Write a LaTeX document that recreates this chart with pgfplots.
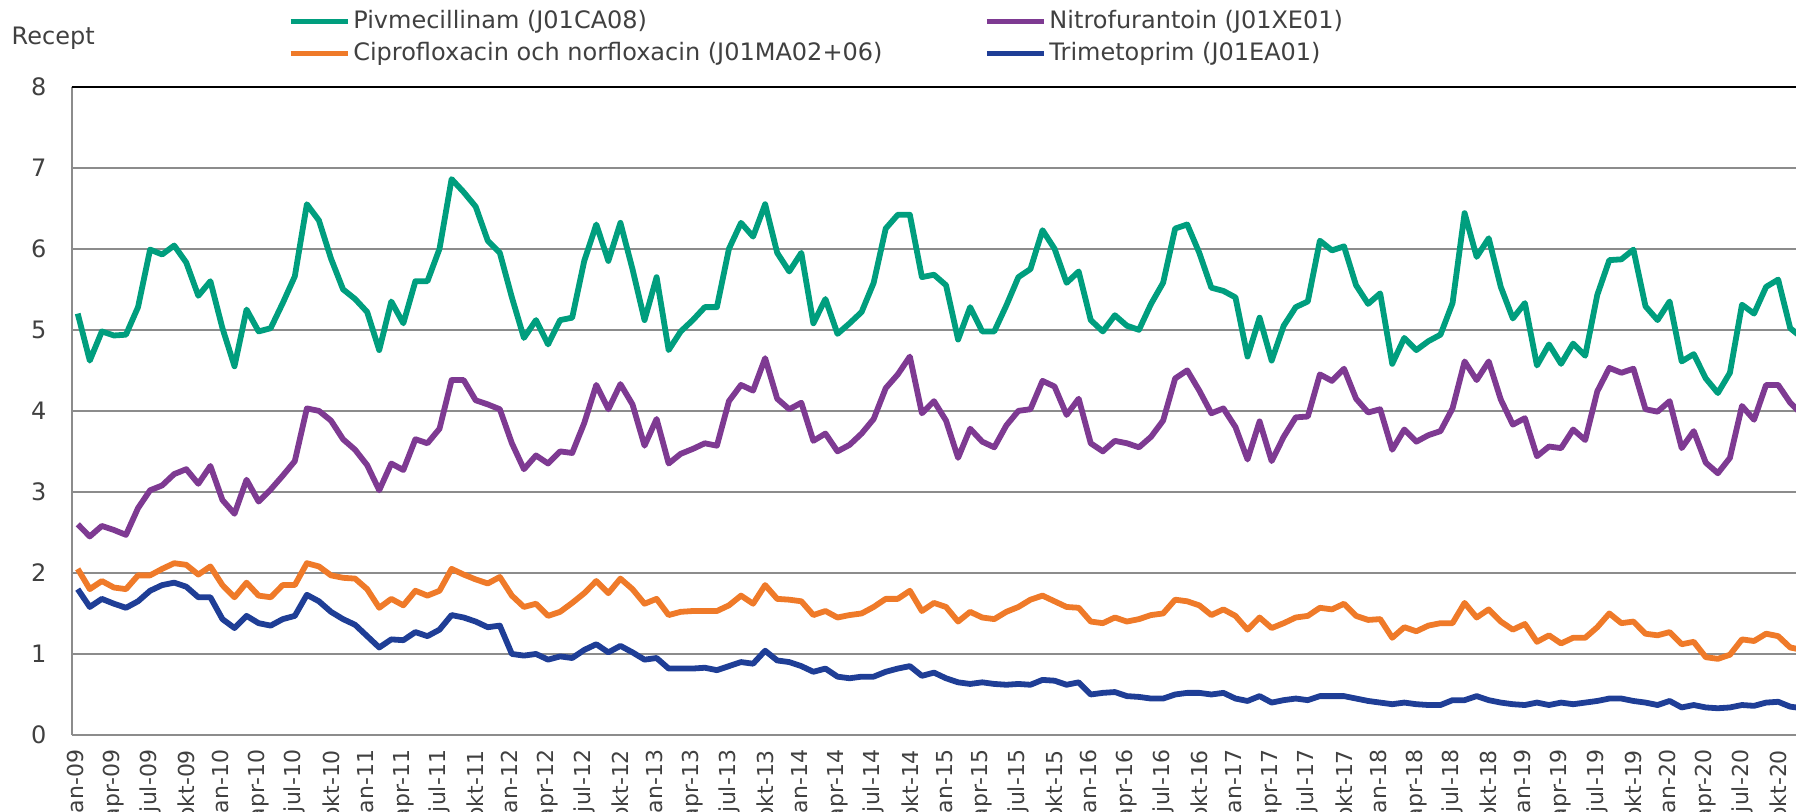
\documentclass[border=0pt]{standalone}
\usepackage{fontspec}
\setmainfont{DejaVu Sans}
\usepackage{pgfplots}
\usepackage{pgfplotstable}
\pgfplotsset{compat=1.18}
\definecolor{cg}{RGB}{0,158,126}
\definecolor{cp}{RGB}{126,58,146}
\definecolor{co}{RGB}{239,122,41}
\definecolor{cb}{RGB}{31,62,150}
\definecolor{grd}{RGB}{140,140,140}
\definecolor{txt}{RGB}{64,64,64}

\pgfplotstableread{
i G P O B
0 5.20 2.60 2.05 1.80
1 4.62 2.45 1.80 1.58
2 4.98 2.58 1.90 1.68
3 4.93 2.53 1.82 1.62
4 4.94 2.47 1.80 1.57
5 5.28 2.80 1.97 1.65
6 5.99 3.02 1.97 1.78
7 5.93 3.08 2.05 1.85
8 6.04 3.22 2.12 1.88
9 5.83 3.28 2.10 1.83
10 5.42 3.10 1.98 1.70
11 5.60 3.32 2.08 1.70
12 5.02 2.90 1.85 1.43
13 4.55 2.73 1.70 1.32
14 5.25 3.15 1.88 1.47
15 4.98 2.88 1.72 1.38
16 5.02 3.03 1.70 1.35
17 5.33 3.20 1.85 1.43
18 5.66 3.38 1.85 1.47
19 6.55 4.03 2.12 1.73
20 6.35 4.00 2.08 1.65
21 5.88 3.88 1.97 1.52
22 5.50 3.65 1.94 1.43
23 5.38 3.52 1.93 1.36
24 5.22 3.33 1.80 1.22
25 4.75 3.02 1.57 1.08
26 5.35 3.35 1.68 1.18
27 5.08 3.27 1.60 1.17
28 5.60 3.65 1.78 1.27
29 5.60 3.60 1.72 1.22
30 6.00 3.78 1.78 1.30
31 6.86 4.38 2.05 1.48
32 6.70 4.38 1.98 1.45
33 6.52 4.13 1.92 1.40
34 6.10 4.08 1.87 1.33
35 5.95 4.02 1.95 1.35
36 5.40 3.60 1.72 1.00
37 4.90 3.28 1.58 0.98
38 5.12 3.45 1.62 1.00
39 4.82 3.35 1.47 0.93
40 5.12 3.50 1.52 0.97
41 5.15 3.48 1.63 0.95
42 5.85 3.85 1.75 1.05
43 6.30 4.32 1.90 1.12
44 5.85 4.02 1.75 1.02
45 6.32 4.33 1.93 1.10
46 5.75 4.08 1.80 1.02
47 5.12 3.57 1.62 0.93
48 5.65 3.90 1.68 0.95
49 4.75 3.35 1.48 0.82
50 4.98 3.47 1.52 0.82
51 5.12 3.53 1.53 0.82
52 5.28 3.60 1.53 0.83
53 5.28 3.57 1.53 0.80
54 6.00 4.12 1.60 0.85
55 6.32 4.32 1.72 0.90
56 6.15 4.25 1.62 0.88
57 6.55 4.65 1.85 1.04
58 5.95 4.15 1.68 0.92
59 5.72 4.02 1.67 0.90
60 5.95 4.10 1.65 0.85
61 5.08 3.63 1.48 0.78
62 5.38 3.72 1.53 0.82
63 4.95 3.50 1.45 0.72
64 5.08 3.58 1.48 0.70
65 5.22 3.72 1.50 0.72
66 5.58 3.90 1.58 0.72
67 6.25 4.28 1.68 0.78
68 6.42 4.45 1.68 0.82
69 6.42 4.67 1.78 0.85
70 5.65 3.97 1.53 0.73
71 5.68 4.12 1.63 0.77
72 5.55 3.88 1.58 0.70
73 4.88 3.42 1.40 0.65
74 5.28 3.78 1.52 0.63
75 4.98 3.62 1.45 0.65
76 4.98 3.55 1.43 0.63
77 5.30 3.82 1.52 0.62
78 5.65 4.00 1.58 0.63
79 5.75 4.02 1.67 0.62
80 6.23 4.37 1.72 0.68
81 6.00 4.30 1.65 0.67
82 5.58 3.95 1.58 0.62
83 5.72 4.15 1.57 0.65
84 5.12 3.60 1.40 0.50
85 4.98 3.50 1.38 0.52
86 5.18 3.63 1.45 0.53
87 5.05 3.60 1.40 0.48
88 5.00 3.55 1.43 0.47
89 5.32 3.68 1.48 0.45
90 5.58 3.88 1.50 0.45
91 6.25 4.40 1.67 0.50
92 6.30 4.50 1.65 0.52
93 5.95 4.25 1.60 0.52
94 5.52 3.97 1.48 0.50
95 5.48 4.03 1.55 0.52
96 5.40 3.80 1.47 0.45
97 4.67 3.40 1.30 0.42
98 5.15 3.87 1.45 0.48
99 4.62 3.38 1.32 0.40
100 5.05 3.68 1.38 0.43
101 5.28 3.92 1.45 0.45
102 5.35 3.93 1.47 0.43
103 6.10 4.45 1.57 0.48
104 5.98 4.37 1.55 0.48
105 6.03 4.52 1.62 0.48
106 5.55 4.15 1.47 0.45
107 5.32 3.98 1.42 0.42
108 5.45 4.02 1.43 0.40
109 4.58 3.52 1.20 0.38
110 4.90 3.77 1.33 0.40
111 4.75 3.62 1.28 0.38
112 4.86 3.70 1.35 0.37
113 4.94 3.75 1.38 0.37
114 5.33 4.03 1.38 0.43
115 6.44 4.61 1.63 0.43
116 5.90 4.38 1.45 0.48
117 6.13 4.61 1.55 0.43
118 5.53 4.14 1.40 0.40
119 5.14 3.83 1.30 0.38
120 5.33 3.91 1.37 0.37
121 4.56 3.44 1.15 0.40
122 4.82 3.56 1.23 0.37
123 4.58 3.54 1.13 0.40
124 4.83 3.77 1.20 0.38
125 4.68 3.64 1.20 0.40
126 5.43 4.24 1.33 0.42
127 5.86 4.53 1.50 0.45
128 5.87 4.47 1.38 0.45
129 5.99 4.52 1.40 0.42
130 5.29 4.02 1.25 0.40
131 5.12 3.99 1.23 0.37
132 5.35 4.12 1.27 0.42
133 4.61 3.54 1.12 0.34
134 4.70 3.75 1.15 0.37
135 4.40 3.36 0.96 0.34
136 4.22 3.23 0.94 0.33
137 4.47 3.42 0.99 0.34
138 5.31 4.06 1.18 0.37
139 5.20 3.89 1.16 0.36
140 5.53 4.32 1.25 0.40
141 5.62 4.32 1.22 0.41
142 5.02 4.10 1.08 0.35
143 4.90 3.95 1.05 0.33
}\data

\begin{document}
\begin{tikzpicture}
\begin{axis}[
  at={(0pt,0pt)}, anchor=south west,
  scale only axis, width=868.3pt, height=324.15pt,
  xmin=-0.5, xmax=143.5, ymin=0, ymax=8,
  clip=false,
  axis x line*=bottom, axis y line*=left,
  axis line style={grd, line width=1pt},
  ymajorgrids, major grid style={grd, line width=1pt},
  ytick={0,1,...,8},
  xtick={0,3,...,141},
  xticklabels={jan-09,apr-09,jul-09,okt-09,jan-10,apr-10,jul-10,okt-10,jan-11,apr-11,jul-11,okt-11,jan-12,apr-12,jul-12,okt-12,jan-13,apr-13,jul-13,okt-13,jan-14,apr-14,jul-14,okt-14,jan-15,apr-15,jul-15,okt-15,jan-16,apr-16,jul-16,okt-16,jan-17,apr-17,jul-17,okt-17,jan-18,apr-18,jul-18,okt-18,jan-19,apr-19,jul-19,okt-19,jan-20,apr-20,jul-20,okt-20},
  major tick length=0pt,
  tick style={draw=none},
  /pgf/number format/assume math mode=true,
  yticklabel style={anchor=east, inner sep=0pt, font=\fontsize{12}{14}\selectfont, text=txt},
  yticklabel shift=12.5pt,
  xticklabel style={rotate=90, anchor=east, inner sep=0pt, font=\fontsize{11}{13}\selectfont, text=txt},
  xticklabel shift=7.3pt,
  legend columns=2,
  legend cell align=left,
  legend style={at={(0.1246,1.1177)}, anchor=north west, draw=none, fill=none,
    inner sep=0pt, outer sep=0pt, column sep=1.5pt, row sep=4pt,
    font=\fontsize{12}{14}\selectfont, text=txt,
    cells={anchor=base west},
    nodes={inner sep=0pt, text height=9pt, text depth=3pt}},
  legend image code/.code={\draw[#1, line width=2.6pt] (0pt,0.36em) -- (28.5pt,0.36em);},
  every axis plot/.append style={line width=2.9pt, line join=round, mark=none},
]
\addplot[cg] table[x=i, y=G] {\data};
\addlegendentry{\makebox[314pt][l]{Pivmecillinam (J01CA08)}}
\addplot[cp] table[x=i, y=P] {\data};
\addlegendentry{Nitrofurantoin (J01XE01)}
\addplot[co] table[x=i, y=O] {\data};
\addlegendentry{\makebox[314pt][l]{Ciprofloxacin och norfloxacin (J01MA02+06)}}
\addplot[cb] table[x=i, y=B] {\data};
\addlegendentry{Trimetoprim (J01EA01)}
\draw[black, line width=1.1pt] (rel axis cs:0,1) -- (rel axis cs:1,1);
\node[anchor=base west, inner sep=0pt, text=txt, font=\fontsize{12}{14}\selectfont, xshift=-30.2pt, yshift=21.2pt] at (rel axis cs:0,1) {Recept};
\end{axis}
\pgfresetboundingbox
\path[use as bounding box] (-35.85pt,-38pt) rectangle (862.15pt,367.5pt);
\end{tikzpicture}
\end{document}
